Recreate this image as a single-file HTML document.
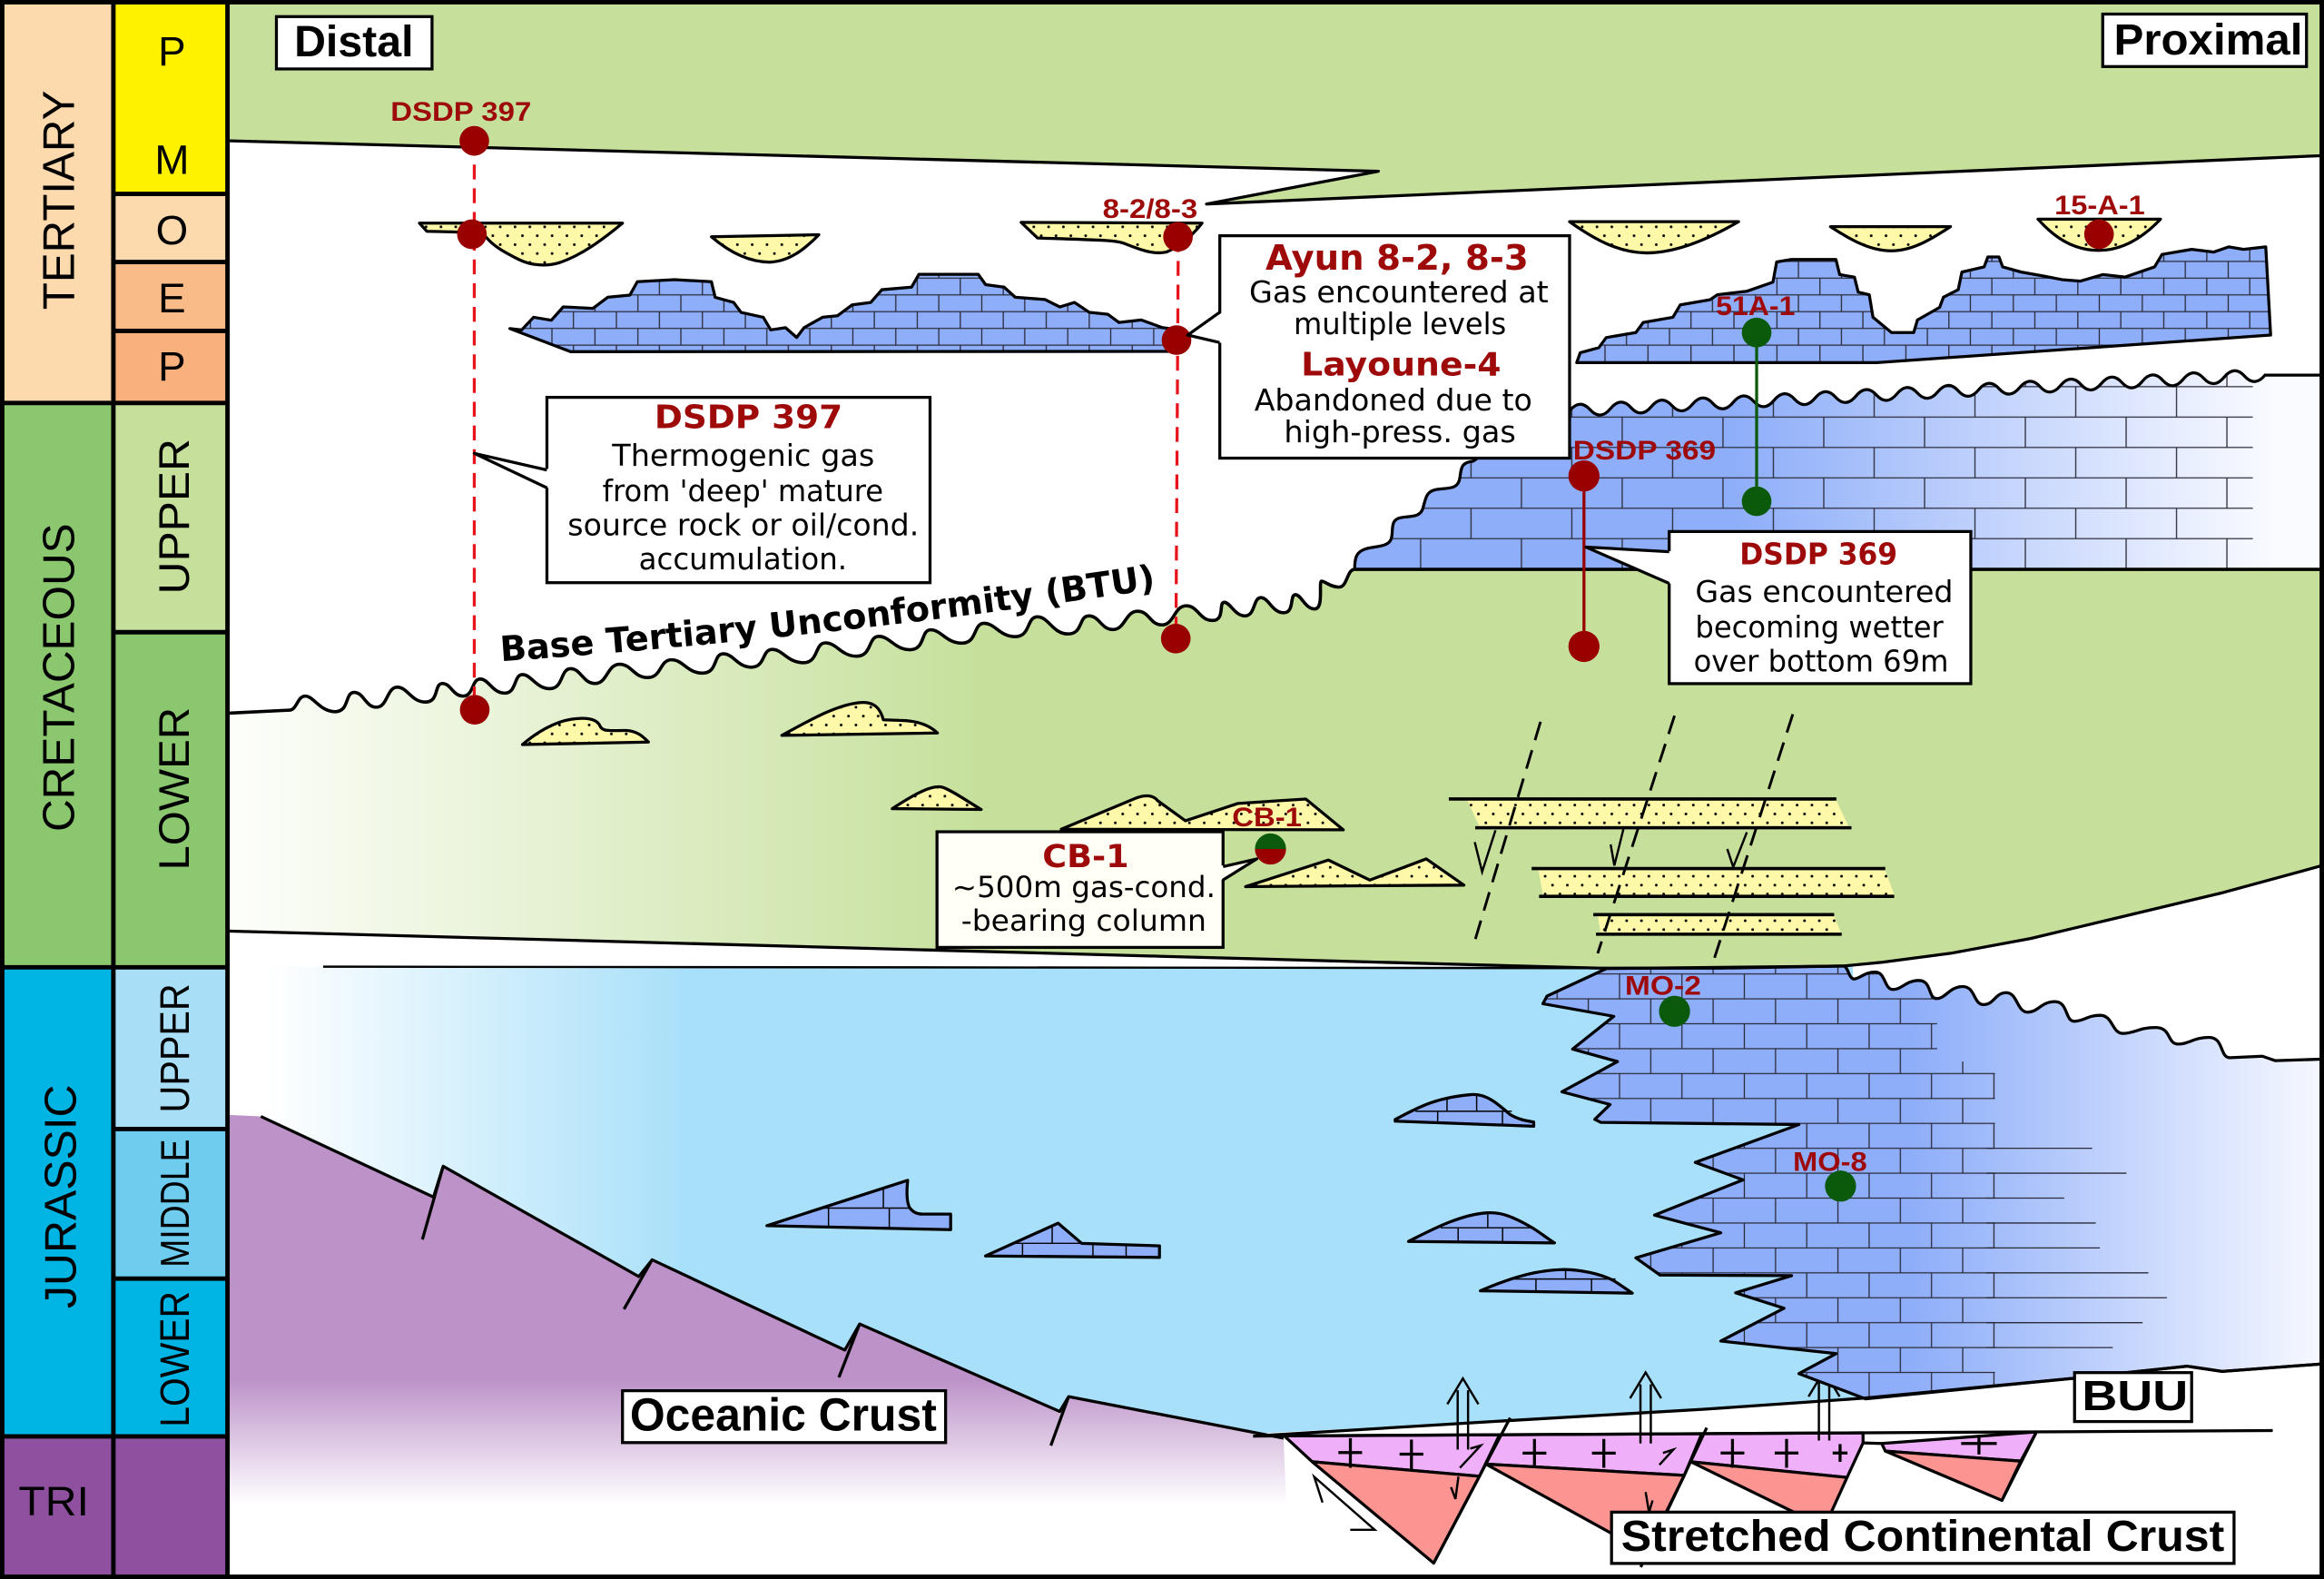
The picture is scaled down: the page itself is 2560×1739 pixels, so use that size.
<!DOCTYPE html>
<html><head><meta charset="utf-8">
<style>
html,body{margin:0;padding:0;background:#fff;}
svg{display:block;}
.ls{font-family:"Liberation Sans",sans-serif;}
.dj{font-family:"DejaVu Sans","Liberation Sans",sans-serif;}
.rd{fill:#9E0A0A;font-weight:bold;}
.bd{font-weight:bold;}
</style></head><body>
<svg width="2560" height="1739" viewBox="0 0 1568 1065" preserveAspectRatio="none" xmlns="http://www.w3.org/2000/svg" xmlns:xlink="http://www.w3.org/1999/xlink">
<defs>
<linearGradient id="gCret" gradientUnits="userSpaceOnUse" x1="155" y1="0" x2="660" y2="0"><stop offset="0" stop-color="#fdfefb"/><stop offset="1" stop-color="#C6E09C"/></linearGradient>
<linearGradient id="gJur" gradientUnits="userSpaceOnUse" x1="180" y1="0" x2="460" y2="0"><stop offset="0" stop-color="#ffffff"/><stop offset="1" stop-color="#A9E0F9"/></linearGradient>
<linearGradient id="gPur" gradientUnits="userSpaceOnUse" x1="0" y1="930" x2="0" y2="1015"><stop offset="0" stop-color="#BC92C8"/><stop offset="1" stop-color="#ffffff"/></linearGradient>
<linearGradient id="g369" gradientUnits="userSpaceOnUse" x1="1170" y1="0" x2="1535" y2="0"><stop offset="0" stop-color="#8EAEF9"/><stop offset="1" stop-color="#fafbff"/></linearGradient>
<linearGradient id="gLJ" gradientUnits="userSpaceOnUse" x1="1290" y1="0" x2="1566" y2="0"><stop offset="0" stop-color="#8EAEF9"/><stop offset="1" stop-color="#f6f8ff"/></linearGradient>
<pattern id="brT" patternUnits="userSpaceOnUse" x="372.4" y="221.5" width="29" height="22.6">
<rect width="29" height="22.6" fill="#8EAEF9"/>
<path d="M0,0H29M0,11.3H29M0,22.6H29M0,0V11.3M29,0V11.3M14.5,11.3V22.6" stroke="#2a2a3a" stroke-width="0.8" fill="none"/>
</pattern>
<pattern id="br369" patternUnits="userSpaceOnUse" x="958.5" y="342.8" width="68" height="41">
<path d="M0,0H68M0,20.5H68M0,41H68M34,0V20.5M0,20.5V41M68,20.5V41" stroke="#2a2a3a" stroke-width="0.8" fill="none"/>
</pattern>
<pattern id="brJ" patternUnits="userSpaceOnUse" x="1219" y="656.9" width="42.1" height="33.6">
<path d="M0,0H42.1M0,16.8H42.1M0,33.6H42.1M0,0V16.8M42.1,0V16.8M21.05,16.8V33.6" stroke="#2a2a3a" stroke-width="0.8" fill="none"/>
</pattern>
<pattern id="sand" patternUnits="userSpaceOnUse" width="10" height="12">
<rect width="10" height="12" fill="#FEF9A8"/>
<circle cx="2.5" cy="3" r="0.9" fill="#000"/><circle cx="7.5" cy="9" r="0.9" fill="#000"/>
</pattern>
<path id="lsJ" d="M1083.8,653.3 L1243.7,651.6 C1247,651.6 1247.3,660.3 1250.9,660.3 S1258.05,655.6 1265.2,655.6 S1271.2,667.4 1277.2,667.4 S1285.95,661.3 1294.7,661.3 S1300.7,673.5 1306.7,673.5 S1315.45,665.4 1324.2,665.4 S1331.3,677.6 1338.4,677.6 S1346,669.5 1353.6,669.5 S1360.8,682.7 1368,682.7 S1377.2,675.6 1386.4,675.6 S1393,688.8 1399.6,688.8 S1408.3,684.8 1417,684.8 S1424.7,697 1432.4,697 S1443.35,693 1454.3,693 S1461.95,704.2 1469.6,704.2 S1479.95,699.7 1490.3,699.7 S1497.45,713.4 1504.6,713.4 L1526.4,712.4 L1535.2,715.4 L1566,714.4 L1566,920 L1499.3,925 L1475.8,921.5 L1398,929.7 L1258.7,943.5 L1213.7,926.5 L1238.8,913 L1161,904.5 L1203.7,882.4 L1171,872 L1208.8,860.4 L1120,860 L1103.7,848.4 L1161,831.5 L1116.3,819.6 L1176,795.8 L1143.8,784 L1213.7,758.5 L1080,757 L1076,755 L1086.3,745 L1053.8,736.4 L1091.3,716 L1061,707.6 L1088.8,685.5 L1041,677 L1043.8,671.8 Z"/>
<path id="ls369" d="M914,384 C914,376 915,372 922,370 C930,368 938,369 939,362 C940,356 938,350 946,349 C952,348 958,349 960,343 C962,336 962,331 970,330 C978,329 984,330 985,322 C986,315 986,312 994,311 L1010,300 L1059,277 q6.9,-8.35 13.8,-0.706 t13.8,-0.706 t13.8,-0.706 t13.8,-0.706 t13.8,-0.706 t13.8,-0.706 t13.8,-0.706 t13.8,-0.706 t13.8,-0.706 t13.8,-0.706 t13.8,-0.706 t13.8,-0.706 t13.8,-0.706 t13.8,-0.706 t13.8,-0.706 t13.8,-0.706 t13.8,-0.706 t13.8,-0.706 t13.8,-0.706 t13.8,-0.706 t13.8,-0.706 t13.8,-0.706 t13.8,-0.706 t13.8,-0.706 t13.8,-0.706 t13.8,-0.706 t13.8,-0.706 t13.8,-0.706 t13.8,-0.706 t13.8,-0.706 t13.8,-0.706 t13.8,-0.706 t13.8,-0.706 t13.8,-0.706 L1566,253 L1566,384 Z"/>
<clipPath id="cpJ"><use href="#lsJ" xlink:href="#lsJ"/></clipPath>
<clipPath id="cp369"><use href="#ls369" xlink:href="#ls369"/></clipPath>
<path id="btuP" d="M338,446 Q555,431 782,397"/>
</defs>

<!-- background -->
<rect x="0" y="0" width="1568" height="1065" fill="#fff"/>

<!-- top green band -->
<path d="M155,0 H1566 V105 L814,137.6 L930,115.5 L155,95 Z" fill="#C6E09C"/>

<!-- Cretaceous green -->
<path d="M155,481 L195,479 C200.5,479 200.5,469.5 206,469.5 S216,480 226,480 S232.5,467 239,467 S246.5,477 254,477 S261,463.5 268,463.5 S277.5,473.5 287,473.5 S292.75,461 298.5,461 S305.5,469.5 312.5,469.5 S318.25,458 324,458 S332.25,467.5 340.5,467.5 S346.5,455 352.5,455 S361.75,464.5 371,464.5 S378,451 385,451 S393.25,461 401.5,461 S409.75,448 418,448 S427.5,457 437,457 S445,445 453,445 S463.5,454 474,454 S481,441 488,441 S497.5,450 507,450 S514,438 521,438 S531.5,447 542,447 S549.5,433.6 557,433.6 S567.5,442.6 578,442.6 S585.5,429.2 593,429.2 S603.5,438.2 614,438.2 S621,424.8 628,424.8 S638.5,433.8 649,433.8 S656.5,420.4 664,420.4 S674.5,429.4 685,429.4 S692.5,416 700,416 S710.3,427.6 720.6,427.6 S727.6,415.4 734.7,415.4 S742.9,424.6 751,424.6 S759.3,412.3 767.5,412.3 S775.8,421.5 784,421.5 S792.2,408.6 800.3,408.6 S809.2,418.5 818,418.5 S822,406.2 826,406.2 S833,415.4 840,415.4 S845.4,403.1 850.7,403.1 S858.4,413.3 866,413.3 S870,401.1 874,401.1 S880.5,410.7 887,410.7 S889.4,392 891.7,392 S897.6,396 903.4,396 S908.7,384 914,384 L1566,384 L1566,584 L1500,602 L1433,618 L1370,633 L1316,643 L1270,649 L1244,651.5 L1160,653 L1079,653 L784,645 L155,628 Z" fill="url(#gCret)"/>

<!-- Jurassic blue -->
<path d="M155,652 L1250,652 L1262,943.5 L1258,943 L1150,950.5 L1014,958.4 L845.5,967 L721,942 L715,952 L580,893 L570,910.6 L440,849.7 L431,861 L299,786.6 L292.5,807.4 L176,753 L155,752 Z" fill="url(#gJur)"/>

<!-- Oceanic crust -->
<path d="M155,752 L176,753 L292.5,807.4 L299,786.6 L431,861 L440,849.7 L570,910.6 L580,893 L715,952 L721,942 L866,970 L870,1063 L155,1063 Z" fill="url(#gPur)"/>

<!-- Stretched continental crust blocks -->
<g stroke="#000" stroke-width="2" stroke-linejoin="round">
<path d="M866.5,968.5 L1011.8,967.7 L998.2,995.7 L885.3,985.9 Z" fill="#EFB0F9"/>
<path d="M885.3,985.9 L998.2,995.7 L967.3,1054.3 Z" fill="#FC9592"/>
<path d="M1011.8,967.7 L1148.2,967 L1136.4,995.1 L1002.5,987.5 Z" fill="#EFB0F9"/>
<path d="M1002.5,987.5 L1136.4,995.1 L1110.7,1047.1 Z" fill="#FC9592"/>
<path d="M1148.2,967 L1257,966.4 L1257,973.2 L1246.2,996.5 L1140.7,985.9 Z" fill="#EFB0F9"/>
<path d="M1140.7,985.9 L1246.2,996.5 L1231,1030 Z" fill="#FC9592"/>
<path d="M1269.6,973.6 L1374,965.8 L1363.4,985.5 L1272,978.7 Z" fill="#EFB0F9"/>
<path d="M1272,978.7 L1363.4,985.5 L1350.7,1012 Z" fill="#FC9592"/>
<path d="M1257,973.2 L1269.6,973.6" fill="none"/>
</g>
<g stroke="#000" stroke-width="2" fill="none">
<path d="M1018.9,956.3 L967.3,1054.3 M1151.5,963 L1107,1057 M1374,965.8 L1350.7,1012"/>
</g>
<g stroke="#000" stroke-width="2" fill="none">
<path d="M903,979.7 H919 M911.1,970 V990"/>
<path d="M944.3,980.8 H960.3 M952.3,971 V991"/>
<path d="M1027.3,980.1 H1043.3 M1035.3,970.5 V990"/>
<path d="M1074.1,980.1 H1090.1 M1082.1,970.5 V990"/>
<path d="M1160.9,980 H1176.9 M1168.9,970.5 V990"/>
<path d="M1197.4,980 H1213.4 M1205.4,970.5 V990"/>
<path d="M1236.5,980 H1246.5 M1241.5,974 V986"/>
<path d="M1323.2,973.6 H1347.2 M1335.2,968 V981"/>
</g>
<g stroke="#000" stroke-width="1.5" fill="none">
<path d="M892.3,1013.4 L886.7,996.1 L927.5,1031.8 L911,1031.8"/>
<path d="M985,990 L999,975 L992,977 M984,996 L982,1011 L979,1003"/>
<path d="M1119.6,988 L1129,977.7 L1122,980 M1110.3,1006.3 L1112.6,1020 L1115,1012"/>
<path d="M983.5,937.7 V977.7 M990.5,937.7 V977.7 M976.5,947.1 L987,929.7 L997.5,947.1"/>
<path d="M1106.8,933.7 V973.6 M1113.8,933.7 V973.6 M1099.8,943.1 L1110.3,925.7 L1120.8,943.1"/>
<path d="M1227.2,932.6 V971.6 M1234.2,932.6 V971.6 M1220.2,942 L1230.7,924.6 L1241.2,942"/>
</g>

<!-- Jurassic limestone -->
<use href="#lsJ" xlink:href="#lsJ" fill="url(#gLJ)"/>
<g clip-path="url(#cpJ)">
<path d="M1030,640 H1307 V716 H1346 V960 H1030 Z" fill="url(#brJ)"/>
<path d="M1340,774.5 H1411.6 M1340,791.3 H1434.7 M1340,808.1 H1392.7 M1340,824.9 H1414 M1340,841.7 H1416.8 M1340,858.5 H1449.5 M1340,875.3 H1462 M1340,892.1 H1445.6 M1340,908.9 H1425.5" stroke="#2a2a3a" stroke-width="0.8" fill="none"/>
</g>
<use href="#lsJ" xlink:href="#lsJ" fill="none" stroke="#000" stroke-width="2" stroke-linejoin="round"/>

<!-- Jurassic small limestone lenses -->
<g stroke="#000" stroke-linejoin="round">
<path d="M517.4,826.7 L612.4,796.1 Q611,810 613.9,814.8 Q617,818.9 622.4,818.9 L641.4,818.9 L641.4,829.4 Z" fill="#8EAEF9" stroke-width="2"/>
<path d="M554,814.8 H614 M559,814.8 V828 M596,801.5 V814.8 M600,814.8 V829" fill="none" stroke-width="0.9"/>
<path d="M664.9,847.1 L713.9,825 L729.8,838.6 L782.3,840.3 L782.3,848.1 Z" fill="#8EAEF9" stroke-width="2"/>
<path d="M683.7,838.6 H729.8 M709.9,827 V838.6 M689.9,838.6 V847.5 M737.4,839 V848 M759.8,839.6 V848" fill="none" stroke-width="0.9"/>
<path d="M941.3,755.1 C955,748 968,740 993.8,738.2 C1003,738 1010,744 1018.8,751.7 C1024,755 1030,756 1034.8,756.8 L1034.8,759.6 L941.3,756.2 Z" fill="#8EAEF9" stroke-width="2"/>
<path d="M955,749.5 H1020 M976.3,741 V749.5 M996.3,738.5 V749.5 M1013.7,749.5 V758.5 M970,749.5 V757" fill="none" stroke-width="0.9"/>
<path d="M950.3,837.3 C965,830 985,819 1003.8,818 C1012,817.5 1020,820 1033.8,828.1 C1040,832 1045,836 1048.8,838.3 Z" fill="#8EAEF9" stroke-width="2"/>
<path d="M972,828.1 H1034 M1003.8,818.5 V828.1 M983.8,828.1 V837.5 M1013.8,828.1 V838" fill="none" stroke-width="0.9"/>
<path d="M998.8,870.6 C1010,866 1030,857 1053.8,856.3 C1065,856 1080,859 1088.8,863.8 C1094,867 1098,870 1101.3,872.2 Z" fill="#8EAEF9" stroke-width="2"/>
<path d="M1018.8,862.7 H1090 M1036.3,862.7 V871.5 M1073.8,862.7 V872 M1056.3,856.5 V862.7" fill="none" stroke-width="0.9"/>
</g>

<!-- Upper Cretaceous limestone (DSDP 369) -->
<use href="#ls369" xlink:href="#ls369" fill="url(#g369)"/>
<g clip-path="url(#cp369)"><rect x="900" y="240" width="620" height="150" fill="url(#br369)"/></g>
<path d="M914,384 C914,376 915,372 922,370 C930,368 938,369 939,362 C940,356 938,350 946,349 C952,348 958,349 960,343 C962,336 962,331 970,330 C978,329 984,330 985,322 C986,315 986,312 994,311 L1010,300 L1059,277 q6.9,-8.35 13.8,-0.706 t13.8,-0.706 t13.8,-0.706 t13.8,-0.706 t13.8,-0.706 t13.8,-0.706 t13.8,-0.706 t13.8,-0.706 t13.8,-0.706 t13.8,-0.706 t13.8,-0.706 t13.8,-0.706 t13.8,-0.706 t13.8,-0.706 t13.8,-0.706 t13.8,-0.706 t13.8,-0.706 t13.8,-0.706 t13.8,-0.706 t13.8,-0.706 t13.8,-0.706 t13.8,-0.706 t13.8,-0.706 t13.8,-0.706 t13.8,-0.706 t13.8,-0.706 t13.8,-0.706 t13.8,-0.706 t13.8,-0.706 t13.8,-0.706 t13.8,-0.706 t13.8,-0.706 t13.8,-0.706 t13.8,-0.706 L1566,253" fill="none" stroke="#000" stroke-width="2"/>

<!-- Tertiary limestones -->
<g stroke="#000" stroke-width="2" stroke-linejoin="round" fill="url(#brT)">
<path d="M344,221.6 L352,222.5 L360,214 L372,216 L380,207 L400,208 L410,200.5 L425,199 L430,190 L455,188.6 L480,190 L482.5,200.5 L495,204 L500,210.7 L515,214 L520,222.5 L530,221 L537.5,227.6 L542.5,221 L555,214 L565,213 L575,205.6 L587.5,204 L595,195.4 L615,193.7 L620,185 L660,185 L665,192 L677.5,193.7 L685,200.5 L705,202 L715,207 L725,204 L735,210.7 L747.5,212 L755,217.5 L770,215.8 L784,220.9 L792,222 L795,237 L385,237.2 Z"/>
<path d="M1063.8,244.6 L1066.2,237.9 L1078.7,234.5 L1083.7,227.7 L1103.7,224.3 L1108.7,217.5 L1128.7,214 L1133.7,205.6 L1153.7,202.2 L1158.7,198.8 L1178.7,196.4 L1196.2,190.3 L1198.7,176.7 L1208.7,175 L1238.7,175 L1241.2,185.2 L1251.2,186.9 L1253.7,197 L1261.2,198.8 L1263.7,214 L1276.2,224.3 L1291.2,224.3 L1293.7,215.8 L1308.7,207.3 L1311.2,200.5 L1321.2,195.4 L1323.7,183.5 L1338.7,180 L1341.2,173.3 L1348.7,173.3 L1351.2,180 L1363.7,183.5 L1378.7,186.2 L1391.2,188.6 L1403.7,189.6 L1418.7,185.2 L1433.7,186.9 L1453.7,180 L1458.7,171.6 L1478.7,168.2 L1493.7,170 L1503.7,166.5 L1513.7,168.2 L1528.7,166.5 L1532,226 L1266.2,244.6 Z"/>
</g>

<!-- sands -->
<g stroke="#000" stroke-width="2" stroke-linejoin="round" fill="url(#sand)">
<path d="M283,150.5 L420,150.5 C405,163 392,172 378,177 C368,180 358,179 350,175 C340,170 333,166 328,160 C326,157 320,156.5 288,156 Z"/>
<path d="M480,159.7 L552.5,158.3 C543,168 533,176 520,176.8 C505,177 492,170 480,159.7 Z"/>
<path d="M689,150 L811,150.5 C806,157 797,166 787,170 C778,172 768,168 758,164 C752,162 745,162 700,160.5 Z"/>
<path d="M1059,149.5 L1173,149.5 C1155,160 1132,170.6 1111,170.6 C1092,170.6 1075,161 1059,149.5 Z"/>
<path d="M1235,152.9 L1316,152.9 C1302,162 1290,169.2 1276,169.2 C1262,169.2 1249,162 1235,152.9 Z"/>
<path d="M1375,147.8 L1457.7,147.8 C1448,158 1434,168.9 1416,168.9 C1398,168.9 1385,159 1375,147.8 Z"/>
<path d="M352.5,502.2 C362,494 374,487 385,485.2 C396,483.5 403,485 405,490 C407,494 414,492.5 422.5,492.7 C430,493 434,497 437.5,500.5 Z"/>
<path d="M527.5,496 C546,486 563,476 579,474 C590,472.5 594,478 596,485.5 L607,485.9 C619,486 627,489 632.5,494.4 Z"/>
<path d="M602,545.4 C615,537 628,529 636,531 C642,533 652,540 662,546 Z"/>
<path d="M716,559.3 L766,538.5 C772,536 778,536 781,540 L799.8,553.6 L835.3,541.9 L881,538.9 L906.3,559.7 Z"/>
<path d="M840.4,598 L896.3,580.1 L924.2,593.6 L962.3,579.3 L987.7,597 Z"/>
</g>
<g fill="url(#sand)">
<path d="M990,540 L1239,540 L1247,557 L998,557 Z"/>
<path d="M1038,587 L1272,587 L1278,603.5 L1041,603.5 Z"/>
<path d="M1078,618 L1237.5,618 L1242,629 L1080,629 Z"/>
</g>
<g stroke="#000" stroke-width="2.2" fill="none">
<path d="M977.5,538.9 H1239 M995.3,558.3 H1249.2 M1033.4,585.8 H1272 M1038.4,604.6 H1278 M1075,616.9 H1237.5 M1076.8,630.1 H1242.6"/>
</g>

<!-- boundary strokes -->
<g stroke="#000" fill="none" stroke-linejoin="round">
<path d="M155,95 L930,115.5 L814,137.6 L1566,105" stroke-width="2"/>
<path d="M155,481 L195,479 C200.5,479 200.5,469.5 206,469.5 S216,480 226,480 S232.5,467 239,467 S246.5,477 254,477 S261,463.5 268,463.5 S277.5,473.5 287,473.5 S292.75,461 298.5,461 S305.5,469.5 312.5,469.5 S318.25,458 324,458 S332.25,467.5 340.5,467.5 S346.5,455 352.5,455 S361.75,464.5 371,464.5 S378,451 385,451 S393.25,461 401.5,461 S409.75,448 418,448 S427.5,457 437,457 S445,445 453,445 S463.5,454 474,454 S481,441 488,441 S497.5,450 507,450 S514,438 521,438 S531.5,447 542,447 S549.5,433.6 557,433.6 S567.5,442.6 578,442.6 S585.5,429.2 593,429.2 S603.5,438.2 614,438.2 S621,424.8 628,424.8 S638.5,433.8 649,433.8 S656.5,420.4 664,420.4 S674.5,429.4 685,429.4 S692.5,416 700,416 S710.3,427.6 720.6,427.6 S727.6,415.4 734.7,415.4 S742.9,424.6 751,424.6 S759.3,412.3 767.5,412.3 S775.8,421.5 784,421.5 S792.2,408.6 800.3,408.6 S809.2,418.5 818,418.5 S822,406.2 826,406.2 S833,415.4 840,415.4 S845.4,403.1 850.7,403.1 S858.4,413.3 866,413.3 S870,401.1 874,401.1 S880.5,410.7 887,410.7 S889.4,392 891.7,392 S897.6,396 903.4,396 S908.7,384 914,384 L1566,384" stroke-width="2.2"/>
<path d="M1566,584 L1500,602 L1433,618 L1370,633 L1316,643 L1270,649 L1244,651.5 L1160,653 L1079,653 L784,645 L155,628" stroke-width="2"/>
<path d="M218,652 L1084,653" stroke-width="1.5"/>
<path d="M176,753 L292.5,807.4 L299,786.6 L431,861 L440,849.7 L570,910.6 L580,893 L715,952 L721,942 L866,970" stroke-width="2"/>
<path d="M299,786.6 L285,836 M440,849.7 L421,883 M580,893 L566,929 M721,942 L709,975" stroke-width="2"/>
<path d="M845.5,968.6 L1014,958.4 L1150,950.5 L1258,943 L1398,929.7 L1475.8,921.5 L1499.3,925 L1566,920" stroke-width="2"/>
<path d="M845.5,968.6 L1533.4,964.9" stroke-width="2"/>
</g>

<!-- faults -->
<g stroke="#000" stroke-width="1.8" fill="none">
<path d="M1039.4,486.8 L995.3,633.8 M1129.8,482.7 L1078,643 M1209.6,481.7 L1156.8,646" stroke-dasharray="13,7"/>
<path d="M1009,560 L1000,588 L995,568 M1095.3,559.3 L1089.2,583.8 L1086.7,569.5 M1178.6,561.3 L1169.4,584.8 L1165.4,572.6" stroke-width="1.5"/>
</g>

<!-- wells -->
<g stroke-width="2" fill="none">
<path d="M320,95 V478" stroke="#E8141B" stroke-dasharray="10,6"/>
<path d="M795,160 L793.4,431" stroke="#E8141B" stroke-dasharray="10,6"/>
<path d="M1068.7,321 V436" stroke="#990000"/>
<path d="M1185.2,224.3 V338.1" stroke="#0B5A0B"/>
</g>
<g fill="#990000">
<circle cx="320" cy="95" r="10"/><circle cx="318.4" cy="158" r="10"/><circle cx="320.3" cy="478.7" r="10"/>
<circle cx="794.8" cy="159.7" r="10"/><circle cx="793.8" cy="229.4" r="10"/><circle cx="793.3" cy="430.7" r="10"/>
<circle cx="1068.7" cy="321" r="10.5"/><circle cx="1068.7" cy="436" r="10.5"/>
<circle cx="1416.2" cy="158" r="10"/>
</g>
<g fill="#0B5A0B">
<circle cx="1185.2" cy="224.3" r="10"/><circle cx="1185.2" cy="338.1" r="10"/>
<circle cx="1129.8" cy="682.1" r="10.5"/><circle cx="1241.8" cy="800" r="10.5"/>
<path d="M846.7,572.6 A10.5,10.5 0 0 1 867.7,572.6 Z"/>
</g>
<path d="M846.7,572.6 A10.5,10.5 0 0 0 867.7,572.6 Z" fill="#990000"/>

<!-- callouts -->
<g stroke="#000" stroke-width="2">
<rect x="369" y="268" width="258.5" height="125" fill="#fff"/>
<rect x="823" y="159" width="236" height="150" fill="#fff"/>
<rect x="1126.2" y="358.5" width="203.5" height="102.6" fill="#fff"/>
<rect x="632.2" y="561" width="193" height="78" fill="#FFFFF5"/>
</g>
<polygon points="371,316.5 320,305.8 371,329.5" fill="#fff"/>
<polygon points="825,210.5 801.3,226 825,231.5" fill="#fff"/>
<polygon points="1128,371.8 1070,369 1128,394" fill="#fff"/>
<polygon points="823,584 848,579.3 823,594" fill="#FFFFF5"/>
<g stroke="#000" stroke-width="2" fill="none" stroke-linejoin="round">
<polyline points="369,317 320,305.8 369,329"/>
<polyline points="822.8,210.7 801.3,226 822.8,231"/>
<polyline points="1126.2,372.1 1070,369 1126.2,393.5"/>
<polyline points="825.2,584.5 848,579.3 825.2,593.5"/>
</g>

<g class="dj">
<text class="rd" x="441.5" y="288.8" font-size="22" textLength="127" lengthAdjust="spacingAndGlyphs">DSDP 397</text>
<text x="413" y="314.3" font-size="20" textLength="177" lengthAdjust="spacingAndGlyphs">Thermogenic gas</text>
<text x="406.5" y="338.1" font-size="20" textLength="189.5" lengthAdjust="spacingAndGlyphs">from 'deep' mature</text>
<text x="383" y="360.9" font-size="20" textLength="237" lengthAdjust="spacingAndGlyphs">source rock or oil/cond.</text>
<text x="431" y="384" font-size="20" textLength="140.5" lengthAdjust="spacingAndGlyphs">accumulation.</text>

<text class="rd" x="853.8" y="181.8" font-size="23.5" textLength="177.5" lengthAdjust="spacingAndGlyphs">Ayun 8-2, 8-3</text>
<text x="842.8" y="203.9" font-size="20" textLength="202" lengthAdjust="spacingAndGlyphs">Gas encountered at</text>
<text x="872.8" y="225.3" font-size="20" textLength="143.5" lengthAdjust="spacingAndGlyphs">multiple levels</text>
<text class="rd" x="877.8" y="253.1" font-size="22" textLength="135" lengthAdjust="spacingAndGlyphs">Layoune-4</text>
<text x="846.3" y="276.9" font-size="20" textLength="187.5" lengthAdjust="spacingAndGlyphs">Abandoned due to</text>
<text x="866.3" y="298.3" font-size="20" textLength="156.5" lengthAdjust="spacingAndGlyphs">high-press. gas</text>

<text class="rd" x="1173.7" y="380.6" font-size="20" textLength="106.5" lengthAdjust="spacingAndGlyphs">DSDP 369</text>
<text x="1143.8" y="406" font-size="20" textLength="174" lengthAdjust="spacingAndGlyphs">Gas encountered</text>
<text x="1143.8" y="429.8" font-size="20" textLength="167.4" lengthAdjust="spacingAndGlyphs">becoming wetter</text>
<text x="1142.7" y="452.9" font-size="20" textLength="172" lengthAdjust="spacingAndGlyphs">over bottom 69m</text>

<text class="rd" x="703.3" y="584.8" font-size="21" textLength="58.4" lengthAdjust="spacingAndGlyphs">CB-1</text>
<text x="642.4" y="605.2" font-size="19.5" textLength="177.7" lengthAdjust="spacingAndGlyphs">~500m gas-cond.</text>
<text x="648.5" y="627.7" font-size="19.5" textLength="165.5" lengthAdjust="spacingAndGlyphs">-bearing column</text>
</g>

<!-- well labels -->
<g class="ls rd" font-size="18">
<text x="263.5" y="81.5" textLength="95" lengthAdjust="spacingAndGlyphs">DSDP 397</text>
<text x="744" y="147" textLength="64" lengthAdjust="spacingAndGlyphs">8-2/8-3</text>
<text x="1386.2" y="144.4" textLength="61" lengthAdjust="spacingAndGlyphs">15-A-1</text>
<text x="1157.7" y="212.4" textLength="53.5" lengthAdjust="spacingAndGlyphs">51A-1</text>
<text x="1061.3" y="310" textLength="96.4" lengthAdjust="spacingAndGlyphs">DSDP 369</text>
<text x="831.3" y="557.3" textLength="47" lengthAdjust="spacingAndGlyphs">CB-1</text>
<text x="1096.3" y="670.9" textLength="51.5" lengthAdjust="spacingAndGlyphs">MO-2</text>
<text x="1209.7" y="789.7" textLength="50" lengthAdjust="spacingAndGlyphs">MO-8</text>
</g>

<!-- title boxes -->
<g stroke="#000" stroke-width="2" fill="#fff">
<rect x="186.5" y="11.2" width="105" height="35.3"/>
<rect x="1418.7" y="9.5" width="137.5" height="35.4"/>
<rect x="1399.7" y="925.8" width="79" height="33"/>
<rect x="420" y="938" width="218" height="35"/>
<rect x="1087.3" y="1019.9" width="420" height="34.6"/>
</g>
<g class="ls bd" fill="#000">
<text x="198.5" y="38" font-size="29.5" textLength="80.5" lengthAdjust="spacingAndGlyphs">Distal</text>
<text x="1426.2" y="36.7" font-size="29.5" textLength="127.4" lengthAdjust="spacingAndGlyphs">Proximal</text>
<text x="1404.7" y="951" font-size="28.5" textLength="71.5" lengthAdjust="spacingAndGlyphs">BUU</text>
<text x="425" y="965" font-size="31" textLength="207" lengthAdjust="spacingAndGlyphs">Oceanic Crust</text>
<text x="1093.8" y="1046" font-size="29.5" textLength="407" lengthAdjust="spacingAndGlyphs">Stretched Continental Crust</text>
</g>

<!-- BTU label -->
<text font-family="DejaVu Sans, Liberation Sans, sans-serif" font-weight="bold" font-size="23.5" fill="#000"><textPath href="#btuP" xlink:href="#btuP">Base Tertiary Unconformity (BTU)</textPath></text>

<!-- left columns -->
<rect x="2" y="2" width="74" height="270" fill="#FDD9AE"/>
<rect x="2" y="272" width="74" height="380" fill="#8BC76F"/>
<rect x="2" y="652" width="74" height="317" fill="#00B4E4"/>
<rect x="2" y="969" width="74" height="94" fill="#8E509F"/>
<rect x="76" y="2" width="77" height="129" fill="#FFF200"/>
<rect x="76" y="131" width="77" height="46" fill="#FDD9AE"/>
<rect x="76" y="177" width="77" height="46" fill="#F9BB88"/>
<rect x="76" y="223" width="77" height="49" fill="#F8B07D"/>
<rect x="76" y="272" width="77" height="155" fill="#C6E09C"/>
<rect x="76" y="426" width="77" height="226" fill="#8BC76F"/>
<rect x="76" y="652" width="77" height="110" fill="#A8DEF6"/>
<rect x="76" y="761" width="77" height="101" fill="#6ECDEE"/>
<rect x="76" y="862" width="77" height="107" fill="#00B4E4"/>
<rect x="76" y="969" width="77" height="94" fill="#8E509F"/>
<g stroke="#000" stroke-width="3" fill="none">
<path d="M76.5,0 V1065 M153.5,0 V1065 M0,271.8 H153 M0,652.4 H153 M0,968.8 H153 M76,130.8 H153 M76,176.7 H153 M76,223.2 H153 M76,426.4 H153 M76,761.5 H153 M76,862.4 H153"/>
<rect x="1.5" y="1.5" width="1565" height="1062"/>
</g>
<g class="ls" fill="#000">
<text transform="translate(50,135) rotate(-90)" text-anchor="middle" font-size="30" textLength="148" lengthAdjust="spacingAndGlyphs">TERTIARY</text>
<text transform="translate(50,457) rotate(-90)" text-anchor="middle" font-size="30" textLength="208" lengthAdjust="spacingAndGlyphs">CRETACEOUS</text>
<text transform="translate(51,807) rotate(-90)" text-anchor="middle" font-size="30" textLength="151" lengthAdjust="spacingAndGlyphs">JURASSIC</text>
<text x="12.5" y="1022" font-size="28" textLength="47.5" lengthAdjust="spacingAndGlyphs">TRI</text>
<text x="116" y="44.2" text-anchor="middle" font-size="28">P</text>
<text x="116" y="117.2" text-anchor="middle" font-size="28">M</text>
<text x="116" y="164.8" text-anchor="middle" font-size="28">O</text>
<text x="116" y="210.7" text-anchor="middle" font-size="28">E</text>
<text x="116" y="256.5" text-anchor="middle" font-size="28">P</text>
<text transform="translate(127.5,348.3) rotate(-90)" text-anchor="middle" font-size="29" textLength="105" lengthAdjust="spacingAndGlyphs">UPPER</text>
<text transform="translate(127.5,532) rotate(-90)" text-anchor="middle" font-size="29" textLength="110" lengthAdjust="spacingAndGlyphs">LOWER</text>
<text transform="translate(127.5,707) rotate(-90)" text-anchor="middle" font-size="28" textLength="87" lengthAdjust="spacingAndGlyphs">UPPER</text>
<text transform="translate(127.5,811.6) rotate(-90)" text-anchor="middle" font-size="27" textLength="86.6" lengthAdjust="spacingAndGlyphs">MIDDLE</text>
<text transform="translate(127.5,916.7) rotate(-90)" text-anchor="middle" font-size="28" textLength="91.7" lengthAdjust="spacingAndGlyphs">LOWER</text>
</g>
</svg>
</body></html>
